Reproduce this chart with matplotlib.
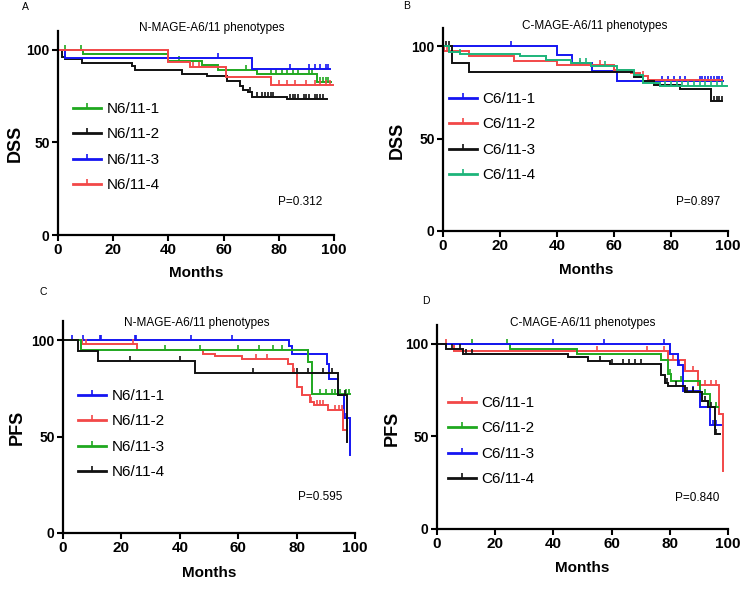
import numpy as np
import matplotlib
matplotlib.use("Agg")
import matplotlib.pyplot as plt
from matplotlib.lines import Line2D

plt.rcParams["font.family"] = ["Liberation Sans", "DejaVu Sans"]

# ===================== colours =====================
GREEN = "#1fa81f"
TEAL = "#1db47a"
BLUE = "#1515f2"
RED = "#f24848"
BLACK = "#111111"

# ===================== A: DSS, N-MAGE-A6/11 =====================
A_N1_T = [0, 9, 40, 52, 58, 72, 94, 99]
A_N1_S = [100, 97.8, 93.7, 91.6, 89.2, 87.0, 82.5, 82.5]
A_N1_C = [2.5, 8.5, 44, 68, 77, 79, 81, 83, 85, 87, 91, 92, 95, 96, 97, 98]

A_N2_T = [0, 1.3, 2.5, 8.6, 26.7, 27.9, 44.8, 53.9, 61.1, 65.9, 67.1, 69, 70.2, 82.9, 97.3]
A_N2_S = [100, 96.2, 95.0, 92.8, 90.9, 89.0, 86.9, 86.0, 83.3, 80.6, 78.3, 77.0, 74.4, 73.1, 73.1]
A_N2_C = [69.5, 72, 74, 75, 76, 77, 78, 84, 85, 86, 87, 89, 90, 91, 93, 94, 95, 96]

A_N3_T = [0, 2.5, 70.2, 98.4]
A_N3_S = [100, 95.2, 89.7, 89.7]
A_N3_C = [58, 84, 91, 93, 95, 97, 98]

A_N4_T = [0, 40, 47.8, 61, 77.3, 99.5]
A_N4_S = [100, 93.5, 90.5, 85.2, 80.7, 80.7]
A_N4_C = [49, 51, 80, 83, 86, 90, 93, 95, 97, 98.5]

# ===================== B: DSS, C-MAGE-A6/11 =====================
B_C1_T = [0, 40, 45.2, 52.2, 61.2, 98.4]
B_C1_S = [100, 95.5, 91.1, 86.6, 81.5, 81.5]
B_C1_C = [24, 77, 79, 81, 83, 85, 90, 91, 92, 93, 94, 95, 96, 97, 98]

B_C2_T = [0, 0.5, 9, 25, 40, 60, 66, 69, 72, 98]
B_C2_S = [100, 97.3, 94.6, 92.2, 90.2, 87.5, 85.5, 83.8, 81.9, 81.9]
B_C2_C = [1.5, 48, 55, 70]

B_C3_T = [0, 3, 9, 67, 70, 74, 83, 94, 98]
B_C3_S = [100, 91.0, 86.3, 83.5, 81.2, 79.3, 76.7, 70.6, 70.6]
B_C3_C = [1, 2, 95, 96, 97, 98]

B_C4_T = [0, 2, 6, 27, 36, 45, 52, 61, 67, 70, 76, 99.5]
B_C4_S = [100, 97.2, 96.0, 94.7, 92.9, 91.1, 89.3, 87.5, 84.8, 80.4, 78.8, 78.8]
B_C4_C = [6, 36, 48, 50, 57, 78, 80, 82, 84, 86, 88, 90, 92, 94, 96, 98]

# ===================== C: PFS, N-MAGE-A6/11 =====================
C_N1_T = [0, 77.3, 78.5, 90.3, 91.2, 94.3, 96.3, 98.3]
C_N1_S = [100, 97.2, 93.0, 87.9, 80.0, 71.5, 59.8, 40.5]
C_N1_C = [3, 7, 12.5, 13, 24.5, 25, 44, 58, 84, 97]

C_N2_T = [0, 6.4, 25.2, 48, 52, 61.2, 77.2, 78.9, 80.3, 81.7, 84.6, 86, 90.9, 96, 96.6]
C_N2_S = [100, 98.3, 95.2, 93.0, 91.9, 90.5, 87.9, 83.1, 76.0, 71.5, 68.0, 66.3, 64.0, 53.4, 53.4]
C_N2_C = [8, 24, 66, 70, 79, 82, 85, 87, 88, 89, 93, 94.5, 95.5]

C_N3_T = [0, 6, 84, 85.2, 98.3]
C_N3_S = [100, 95.2, 88.8, 72.2, 72.2]
C_N3_C = [35, 47, 60, 67, 72, 75, 88, 90, 92, 93, 95, 97, 98]

C_N4_T = [0, 5.3, 12.1, 45.2, 94.3, 97.1]
C_N4_S = [100, 94.2, 89.3, 83.1, 71.5, 47.3]
C_N4_C = [23, 40, 65, 80, 84, 89, 92, 96.5]

# ===================== D: PFS, C-MAGE-A6/11 =====================
D_C1_T = [0, 5.8, 79.4, 85.1, 89.7, 96.8, 98.2]
D_C1_S = [100, 95.8, 91.0, 85.0, 77.4, 62.0, 31.5]
D_C1_C = [3, 6, 55, 72, 78, 81, 88, 92, 94, 96]

D_C2_T = [0, 25.1, 48, 77.1, 79.4, 80.5, 90.3, 93.7, 96.6]
D_C2_S = [100, 97.3, 94.2, 91.0, 83.7, 79.6, 72.9, 65.6, 65.6]
D_C2_C = [12, 24, 80, 84, 92, 96]

D_C3_T = [0, 80, 82.9, 84.6, 90.4, 93.8, 97.5]
D_C3_S = [100, 94.2, 88.2, 74.6, 65.6, 56.0, 56.0]
D_C3_C = [40, 57.5, 78, 83, 88, 95, 96]

D_C4_T = [0, 3, 9, 45, 52, 59.4, 77.1, 78.3, 79.4, 85.1, 90.9, 93.1, 95.4, 97.1]
D_C4_S = [100, 97.3, 94.6, 92.8, 90.4, 89.2, 82.8, 78.8, 77.0, 73.8, 69.2, 65.6, 51.2, 51.2]
D_C4_C = [5, 8, 10, 12, 56, 60, 64, 66, 68, 70, 79, 82, 86, 88, 92, 94, 96]

PANELS = [
    dict(label="A", title="N-MAGE-A6/11 phenotypes", ylab="DSS", p="P=0.312",
         curves=[("N6/11-1", GREEN, A_N1_T, A_N1_S, A_N1_C),
                 ("N6/11-2", BLACK, A_N2_T, A_N2_S, A_N2_C),
                 ("N6/11-3", BLUE, A_N3_T, A_N3_S, A_N3_C),
                 ("N6/11-4", RED, A_N4_T, A_N4_S, A_N4_C)]),
    dict(label="B", title="C-MAGE-A6/11 phenotypes", ylab="DSS", p="P=0.897",
         curves=[("C6/11-1", BLUE, B_C1_T, B_C1_S, B_C1_C),
                 ("C6/11-2", RED, B_C2_T, B_C2_S, B_C2_C),
                 ("C6/11-3", BLACK, B_C3_T, B_C3_S, B_C3_C),
                 ("C6/11-4", TEAL, B_C4_T, B_C4_S, B_C4_C)]),
    dict(label="C", title="N-MAGE-A6/11 phenotypes", ylab="PFS", p="P=0.595",
         curves=[("N6/11-1", BLUE, C_N1_T, C_N1_S, C_N1_C),
                 ("N6/11-2", RED, C_N2_T, C_N2_S, C_N2_C),
                 ("N6/11-3", GREEN, C_N3_T, C_N3_S, C_N3_C),
                 ("N6/11-4", BLACK, C_N4_T, C_N4_S, C_N4_C)]),
    dict(label="D", title="C-MAGE-A6/11 phenotypes", ylab="PFS", p="P=0.840",
         curves=[("C6/11-1", RED, D_C1_T, D_C1_S, D_C1_C),
                 ("C6/11-2", GREEN, D_C2_T, D_C2_S, D_C2_C),
                 ("C6/11-3", BLUE, D_C3_T, D_C3_S, D_C3_C),
                 ("C6/11-4", BLACK, D_C4_T, D_C4_S, D_C4_C)]),
]

# layout in pixels of the 749x590 canvas
W, H = 749, 590
# axes: left, right, x-axis y, top y (ylim 110)
AX_PX = [(58, 334, 235, 31), (443, 728, 231, 28), (63, 355, 533, 321), (437, 728, 529, 325)]
LABEL_PX = [(25, 7), (407, 6), (43, 292), (426, 301)]
TITLE_PX = [(212, 28), (595, 26), (197, 323), (583, 323)]
YLAB_PX = [(15, 143), (397, 140), (17, 427), (392, 428)]
XLAB_PX = [(196, 273), (586, 270), (209, 573), (582, 568)]
P_PX = [(300, 202), (698, 202), (320, 497), (697, 498)]
LEG_PX = [(73, 102), (449, 92), (78, 389), (448, 396)]


def fx(px):
    return px / W


def fy(py):
    return 1 - py / H


def step_value(t, s, x):
    i = np.searchsorted(t, x, side="right") - 1
    return np.asarray(s)[i]


fig = plt.figure(figsize=(7.49, 5.90), dpi=100)

for k, panel in enumerate(PANELS):
    l, r, b, t = AX_PX[k]
    ax = fig.add_axes([fx(l), fy(b), fx(r - l), (b - t) / H])
    handles = []
    for name, color, tt, ss, cc in panel["curves"]:
        ax.step(tt, ss, where="post", color=color, lw=1.4, solid_joinstyle="miter")
        cy = [step_value(tt, ss, c) for c in cc]
        ax.plot(cc, cy, linestyle="none", marker=2, markersize=3.5, mew=1.2, color=color)
        handles.append(Line2D([], [], color=color, lw=2, marker=2, markersize=3.5, mew=1.2))

    ax.set_xlim(0, 100)
    ax.set_ylim(0, 110)
    ax.set_xticks([0, 20, 40, 60, 80, 100])
    ax.set_yticks([0, 50, 100])
    for side in ["top", "right"]:
        ax.spines[side].set_visible(False)
    for side in ["left", "bottom"]:
        ax.spines[side].set_linewidth(1.6)
    ax.tick_params(direction="out", length=4, width=1.5, pad=2)
    ax.tick_params(axis="x", labelsize=11)
    ax.tick_params(axis="y", labelsize=10)
    for lab in ax.get_xticklabels() + ax.get_yticklabels():
        lab.set_fontweight("bold")

    ax.legend(handles, [c[0] for c in panel["curves"]], loc="upper left",
              bbox_to_anchor=(fx(LEG_PX[k][0]), fy(LEG_PX[k][1])),
              bbox_transform=fig.transFigure, frameon=False, fontsize=11,
              numpoints=1, handlelength=1.85, handletextpad=0.35,
              labelspacing=0.75, borderpad=0, borderaxespad=0)

    fig.text(fx(LABEL_PX[k][0]), fy(LABEL_PX[k][1]), panel["label"], fontsize=7.5,
             ha="center", va="center")
    fig.text(fx(TITLE_PX[k][0]), fy(TITLE_PX[k][1]), panel["title"], fontsize=8.5,
             ha="center", va="center")
    fig.text(fx(YLAB_PX[k][0]), fy(YLAB_PX[k][1]), panel["ylab"], fontsize=13,
             fontweight="bold", rotation=90, ha="center", va="center")
    fig.text(fx(XLAB_PX[k][0]), fy(XLAB_PX[k][1]), "Months", fontsize=11,
             fontweight="bold", ha="center", va="center")
    fig.text(fx(P_PX[k][0]), fy(P_PX[k][1]), panel["p"], fontsize=8.5,
             ha="center", va="center")

fig.savefig("out.png", dpi=100)
